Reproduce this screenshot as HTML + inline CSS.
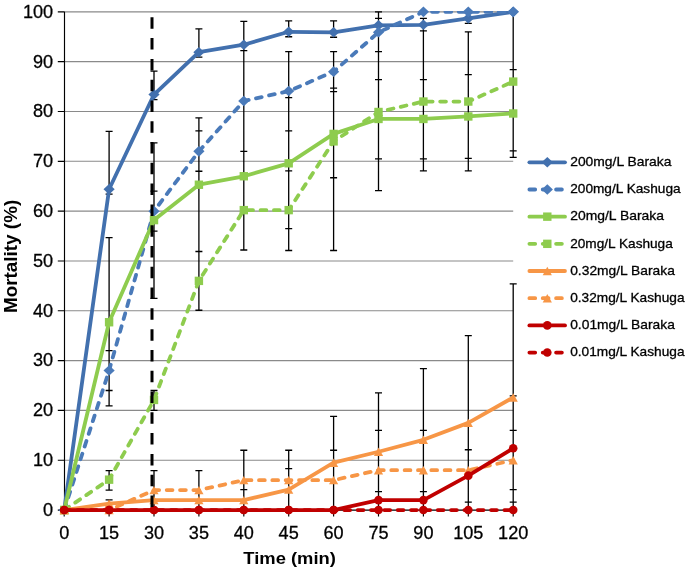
<!DOCTYPE html><html><head><meta charset="utf-8"><style>html,body{margin:0;padding:0;background:#fff;}svg{display:block;will-change:transform;}text{font-family:"Liberation Sans",sans-serif;fill:#000;stroke:#000;stroke-width:0.3px;}</style></head><body>
<svg width="685" height="571" viewBox="0 0 685 571">
<defs><clipPath id="pa"><rect x="0" y="11.0" width="685" height="560"/></clipPath></defs>
<rect width="685" height="571" fill="#fff"/>
<path d="M64.2 460.23H513.20 M64.2 410.41H513.20 M64.2 360.59H513.20 M64.2 310.77H513.20 M64.2 260.95H513.20 M64.2 211.13H513.20 M64.2 161.31H513.20 M64.2 111.49H513.20 M64.2 61.67H513.20 M64.2 11.85H513.20" stroke="#8a8a8a" stroke-width="1.1" fill="none"/>
<path d="M109.10 131.42V194.19 M109.10 237.53V405.93 M109.10 470.69V490.12 M109.10 499.84V510.05 M105.60 131.42H112.60 M105.60 194.19H112.60 M105.60 237.53H112.60 M105.60 350.63H112.60 M105.60 390.48H112.60 M105.60 405.93H112.60 M105.60 470.69H112.60 M105.60 490.12H112.60 M105.60 499.84H112.60 M154.00 71.14V99.53 M154.00 142.88V298.31 M154.00 390.48V410.41 M154.00 470.69V510.05 M150.50 71.14H157.50 M150.50 99.53H157.50 M150.50 142.88H157.50 M150.50 191.20H157.50 M150.50 231.06H157.50 M150.50 298.31H157.50 M150.50 390.48H157.50 M150.50 410.41H157.50 M150.50 470.69H157.50 M198.90 28.79V57.19 M198.90 117.97V310.27 M198.90 470.69V510.05 M195.40 28.79H202.40 M195.40 57.19H202.40 M195.40 117.97H202.40 M195.40 130.92H202.40 M195.40 171.27H202.40 M195.40 251.48H202.40 M195.40 310.27H202.40 M195.40 470.69H202.40 M243.80 21.32V249.99 M243.80 450.27V510.05 M240.30 21.32H247.30 M240.30 50.71H247.30 M240.30 151.35H247.30 M240.30 249.99H247.30 M240.30 450.27H247.30 M240.30 489.62H247.30 M288.70 20.82V36.76 M288.70 51.71V250.49 M288.70 450.27V510.05 M285.20 20.82H292.20 M285.20 36.76H292.20 M285.20 51.71H292.20 M285.20 97.54H292.20 M285.20 130.92H292.20 M285.20 170.78H292.20 M285.20 228.57H292.20 M285.20 250.49H292.20 M285.20 450.27H292.20 M285.20 468.70H292.20 M333.60 20.82V37.26 M333.60 51.71V250.49 M333.60 416.39V510.05 M330.10 20.82H337.10 M330.10 37.26H337.10 M330.10 51.71H337.10 M330.10 88.07H337.10 M330.10 91.56H337.10 M330.10 177.75H337.10 M330.10 250.49H337.10 M330.10 416.39H337.10 M330.10 450.27H337.10 M378.50 11.85V190.70 M378.50 392.97V510.05 M375.00 11.85H382.00 M375.00 18.33H382.00 M375.00 51.71H382.00 M375.00 79.61H382.00 M375.00 158.82H382.00 M375.00 190.70H382.00 M375.00 392.97H382.00 M375.00 430.34H382.00 M375.00 491.62H382.00 M423.40 18.33V170.78 M423.40 368.56V510.05 M419.90 18.33H426.90 M419.90 30.78H426.90 M419.90 79.61H426.90 M419.90 158.82H426.90 M419.90 170.78H426.90 M419.90 368.56H426.90 M419.90 430.34H426.90 M419.90 491.62H426.90 M468.30 16.83V23.31 M468.30 31.78V170.78 M468.30 335.68V510.05 M464.80 23.31H471.80 M464.80 31.78H471.80 M464.80 74.62H471.80 M464.80 158.32H471.80 M464.80 170.78H471.80 M464.80 335.68H471.80 M464.80 449.77H471.80 M464.80 502.08H471.80 M513.20 11.85V157.32 M513.20 283.87V510.05 M509.70 69.64H516.70 M509.70 150.85H516.70 M509.70 157.32H516.70 M509.70 283.87H516.70 M509.70 395.96H516.70 M509.70 430.34H516.70 M509.70 489.62H516.70 M509.70 502.08H516.70" stroke="#000" stroke-width="1.3" fill="none"/>
<path d="M64.5 11.85V510.05 M64.20 510.05H513.20 M57.8 510.05H64.5 M57.8 460.23H64.5 M57.8 410.41H64.5 M57.8 360.59H64.5 M57.8 310.77H64.5 M57.8 260.95H64.5 M57.8 211.13H64.5 M57.8 161.31H64.5 M57.8 111.49H64.5 M57.8 61.67H64.5 M57.8 11.85H64.5 M64.20 510.05V516.6 M109.10 510.05V516.6 M154.00 510.05V516.6 M198.90 510.05V516.6 M243.80 510.05V516.6 M288.70 510.05V516.6 M333.60 510.05V516.6 M378.50 510.05V516.6 M423.40 510.05V516.6 M468.30 510.05V516.6 M513.20 510.05V516.6" stroke="#000" stroke-width="1.15" fill="none"/>
<polyline clip-path="url(#pa)" points="64.20,510.05 109.10,189.21 154.00,94.55 198.90,52.20 243.80,44.73 288.70,31.78 333.60,32.28 378.50,25.30 423.40,24.80 468.30,18.33 513.20,11.85" fill="none" stroke="#4270AE" stroke-width="3.8" stroke-linejoin="round" stroke-linecap="round"/>
<path d="M64.20 504.75L69.80 510.05L64.20 515.35L58.60 510.05Z" fill="#4270AE"/><path d="M109.10 183.91L114.70 189.21L109.10 194.51L103.50 189.21Z" fill="#4270AE"/><path d="M154.00 89.25L159.60 94.55L154.00 99.85L148.40 94.55Z" fill="#4270AE"/><path d="M198.90 46.90L204.50 52.20L198.90 57.50L193.30 52.20Z" fill="#4270AE"/><path d="M243.80 39.43L249.40 44.73L243.80 50.03L238.20 44.73Z" fill="#4270AE"/><path d="M288.70 26.48L294.30 31.78L288.70 37.08L283.10 31.78Z" fill="#4270AE"/><path d="M333.60 26.98L339.20 32.28L333.60 37.58L328.00 32.28Z" fill="#4270AE"/><path d="M378.50 20.00L384.10 25.30L378.50 30.60L372.90 25.30Z" fill="#4270AE"/><path d="M423.40 19.50L429.00 24.80L423.40 30.10L417.80 24.80Z" fill="#4270AE"/><path d="M468.30 13.03L473.90 18.33L468.30 23.63L462.70 18.33Z" fill="#4270AE"/><path d="M513.20 6.55L518.80 11.85L513.20 17.15L507.60 11.85Z" fill="#4270AE"/>
<polyline clip-path="url(#pa)" points="64.20,510.05 109.10,370.55 154.00,211.13 198.90,151.35 243.80,101.03 288.70,91.06 333.60,71.63 378.50,32.28 423.40,11.85 468.30,11.85 513.20,11.85" fill="none" stroke="#4A7AB9" stroke-width="3.8" stroke-linejoin="round" stroke-linecap="round" stroke-dasharray="5.8 7.54"/>
<path d="M64.20 504.75L69.80 510.05L64.20 515.35L58.60 510.05Z" fill="#4A7AB9"/><path d="M109.10 365.25L114.70 370.55L109.10 375.85L103.50 370.55Z" fill="#4A7AB9"/><path d="M154.00 205.83L159.60 211.13L154.00 216.43L148.40 211.13Z" fill="#4A7AB9"/><path d="M198.90 146.05L204.50 151.35L198.90 156.65L193.30 151.35Z" fill="#4A7AB9"/><path d="M243.80 95.73L249.40 101.03L243.80 106.33L238.20 101.03Z" fill="#4A7AB9"/><path d="M288.70 85.76L294.30 91.06L288.70 96.36L283.10 91.06Z" fill="#4A7AB9"/><path d="M333.60 66.33L339.20 71.63L333.60 76.93L328.00 71.63Z" fill="#4A7AB9"/><path d="M378.50 26.98L384.10 32.28L378.50 37.58L372.90 32.28Z" fill="#4A7AB9"/><path d="M423.40 6.55L429.00 11.85L423.40 17.15L417.80 11.85Z" fill="#4A7AB9"/><path d="M468.30 6.55L473.90 11.85L468.30 17.15L462.70 11.85Z" fill="#4A7AB9"/><path d="M513.20 6.55L518.80 11.85L513.20 17.15L507.60 11.85Z" fill="#4A7AB9"/>
<polyline clip-path="url(#pa)" points="64.20,510.05 109.10,322.23 154.00,220.10 198.90,184.73 243.80,176.26 288.70,163.30 333.60,133.91 378.50,118.96 423.40,118.96 468.30,116.47 513.20,113.48" fill="none" stroke="#8ECC4E" stroke-width="3.8" stroke-linejoin="round" stroke-linecap="round"/>
<rect x="60.00" y="505.85" width="8.40" height="8.40" fill="#8ECC4E"/><rect x="104.90" y="318.03" width="8.40" height="8.40" fill="#8ECC4E"/><rect x="149.80" y="215.90" width="8.40" height="8.40" fill="#8ECC4E"/><rect x="194.70" y="180.53" width="8.40" height="8.40" fill="#8ECC4E"/><rect x="239.60" y="172.06" width="8.40" height="8.40" fill="#8ECC4E"/><rect x="284.50" y="159.10" width="8.40" height="8.40" fill="#8ECC4E"/><rect x="329.40" y="129.71" width="8.40" height="8.40" fill="#8ECC4E"/><rect x="374.30" y="114.76" width="8.40" height="8.40" fill="#8ECC4E"/><rect x="419.20" y="114.76" width="8.40" height="8.40" fill="#8ECC4E"/><rect x="464.10" y="112.27" width="8.40" height="8.40" fill="#8ECC4E"/><rect x="509.00" y="109.28" width="8.40" height="8.40" fill="#8ECC4E"/>
<polyline clip-path="url(#pa)" points="64.20,510.05 109.10,479.66 154.00,399.95 198.90,280.88 243.80,210.13 288.70,210.13 333.60,141.38 378.50,111.99 423.40,101.53 468.30,101.53 513.20,81.60" fill="none" stroke="#8ECC4E" stroke-width="3.8" stroke-linejoin="round" stroke-linecap="round" stroke-dasharray="5.8 7.54"/>
<rect x="60.00" y="505.85" width="8.40" height="8.40" fill="#8ECC4E"/><rect x="104.90" y="475.46" width="8.40" height="8.40" fill="#8ECC4E"/><rect x="149.80" y="395.75" width="8.40" height="8.40" fill="#8ECC4E"/><rect x="194.70" y="276.68" width="8.40" height="8.40" fill="#8ECC4E"/><rect x="239.60" y="205.93" width="8.40" height="8.40" fill="#8ECC4E"/><rect x="284.50" y="205.93" width="8.40" height="8.40" fill="#8ECC4E"/><rect x="329.40" y="137.18" width="8.40" height="8.40" fill="#8ECC4E"/><rect x="374.30" y="107.79" width="8.40" height="8.40" fill="#8ECC4E"/><rect x="419.20" y="97.33" width="8.40" height="8.40" fill="#8ECC4E"/><rect x="464.10" y="97.33" width="8.40" height="8.40" fill="#8ECC4E"/><rect x="509.00" y="77.40" width="8.40" height="8.40" fill="#8ECC4E"/>
<polyline clip-path="url(#pa)" points="64.20,510.05 109.10,503.57 154.00,500.09 198.90,500.09 243.80,500.09 288.70,489.62 333.60,462.72 378.50,451.76 423.40,439.80 468.30,422.87 513.20,397.46" fill="none" stroke="#F79646" stroke-width="3.8" stroke-linejoin="round" stroke-linecap="round"/>
<path d="M64.20 505.85L68.80 514.25L59.60 514.25Z" fill="#F79646"/><path d="M109.10 499.37L113.70 507.77L104.50 507.77Z" fill="#F79646"/><path d="M154.00 495.89L158.60 504.29L149.40 504.29Z" fill="#F79646"/><path d="M198.90 495.89L203.50 504.29L194.30 504.29Z" fill="#F79646"/><path d="M243.80 495.89L248.40 504.29L239.20 504.29Z" fill="#F79646"/><path d="M288.70 485.42L293.30 493.82L284.10 493.82Z" fill="#F79646"/><path d="M333.60 458.52L338.20 466.92L329.00 466.92Z" fill="#F79646"/><path d="M378.50 447.56L383.10 455.96L373.90 455.96Z" fill="#F79646"/><path d="M423.40 435.60L428.00 444.00L418.80 444.00Z" fill="#F79646"/><path d="M468.30 418.67L472.90 427.06L463.70 427.06Z" fill="#F79646"/><path d="M513.20 393.26L517.80 401.66L508.60 401.66Z" fill="#F79646"/>
<polyline clip-path="url(#pa)" points="64.20,510.05 109.10,510.05 154.00,490.12 198.90,490.12 243.80,480.16 288.70,480.16 333.60,480.16 378.50,470.19 423.40,470.19 468.30,470.19 513.20,460.23" fill="none" stroke="#F79646" stroke-width="3.8" stroke-linejoin="round" stroke-linecap="round" stroke-dasharray="5.8 7.54"/>
<path d="M64.20 505.85L68.80 514.25L59.60 514.25Z" fill="#F79646"/><path d="M109.10 505.85L113.70 514.25L104.50 514.25Z" fill="#F79646"/><path d="M154.00 485.92L158.60 494.32L149.40 494.32Z" fill="#F79646"/><path d="M198.90 485.92L203.50 494.32L194.30 494.32Z" fill="#F79646"/><path d="M243.80 475.96L248.40 484.36L239.20 484.36Z" fill="#F79646"/><path d="M288.70 475.96L293.30 484.36L284.10 484.36Z" fill="#F79646"/><path d="M333.60 475.96L338.20 484.36L329.00 484.36Z" fill="#F79646"/><path d="M378.50 465.99L383.10 474.39L373.90 474.39Z" fill="#F79646"/><path d="M423.40 465.99L428.00 474.39L418.80 474.39Z" fill="#F79646"/><path d="M468.30 465.99L472.90 474.39L463.70 474.39Z" fill="#F79646"/><path d="M513.20 456.03L517.80 464.43L508.60 464.43Z" fill="#F79646"/>
<polyline clip-path="url(#pa)" points="64.20,510.05 109.10,510.05 154.00,510.05 198.90,510.05 243.80,510.05 288.70,510.05 333.60,510.05 378.50,500.09 423.40,500.09 468.30,475.67 513.20,448.27" fill="none" stroke="#C00000" stroke-width="3.8" stroke-linejoin="round" stroke-linecap="round"/>
<circle cx="64.20" cy="510.05" r="4.30" fill="#C00000"/><circle cx="109.10" cy="510.05" r="4.30" fill="#C00000"/><circle cx="154.00" cy="510.05" r="4.30" fill="#C00000"/><circle cx="198.90" cy="510.05" r="4.30" fill="#C00000"/><circle cx="243.80" cy="510.05" r="4.30" fill="#C00000"/><circle cx="288.70" cy="510.05" r="4.30" fill="#C00000"/><circle cx="333.60" cy="510.05" r="4.30" fill="#C00000"/><circle cx="378.50" cy="500.09" r="4.30" fill="#C00000"/><circle cx="423.40" cy="500.09" r="4.30" fill="#C00000"/><circle cx="468.30" cy="475.67" r="4.30" fill="#C00000"/><circle cx="513.20" cy="448.27" r="4.30" fill="#C00000"/>
<polyline clip-path="url(#pa)" points="64.20,510.05 109.10,510.05 154.00,510.05 198.90,510.05 243.80,510.05 288.70,510.05 333.60,510.05 378.50,510.05 423.40,510.05 468.30,510.05 513.20,510.05" fill="none" stroke="#C00000" stroke-width="3.8" stroke-linejoin="round" stroke-linecap="round" stroke-dasharray="5.8 7.54"/>
<circle cx="64.20" cy="510.05" r="4.30" fill="#C00000"/><circle cx="109.10" cy="510.05" r="4.30" fill="#C00000"/><circle cx="154.00" cy="510.05" r="4.30" fill="#C00000"/><circle cx="198.90" cy="510.05" r="4.30" fill="#C00000"/><circle cx="243.80" cy="510.05" r="4.30" fill="#C00000"/><circle cx="288.70" cy="510.05" r="4.30" fill="#C00000"/><circle cx="333.60" cy="510.05" r="4.30" fill="#C00000"/><circle cx="378.50" cy="510.05" r="4.30" fill="#C00000"/><circle cx="423.40" cy="510.05" r="4.30" fill="#C00000"/><circle cx="468.30" cy="510.05" r="4.30" fill="#C00000"/><circle cx="513.20" cy="510.05" r="4.30" fill="#C00000"/>
<path d="M152.0 17.3V512" stroke="#000" stroke-width="3" stroke-dasharray="11.5 9.29" fill="none"/>
<g transform="scale(0.95 1)" font-size="19.1"><text x="56.00" y="515.95" text-anchor="end">0</text><text x="56.00" y="466.13" text-anchor="end">10</text><text x="56.00" y="416.31" text-anchor="end">20</text><text x="56.00" y="366.49" text-anchor="end">30</text><text x="56.00" y="316.67" text-anchor="end">40</text><text x="56.00" y="266.85" text-anchor="end">50</text><text x="56.00" y="217.03" text-anchor="end">60</text><text x="56.00" y="167.21" text-anchor="end">70</text><text x="56.00" y="117.39" text-anchor="end">80</text><text x="56.00" y="67.57" text-anchor="end">90</text><text x="56.00" y="17.75" text-anchor="end">100</text></g>
<g transform="scale(0.95 1)" font-size="19.1"><text x="67.58" y="539.3" text-anchor="middle">0</text><text x="114.84" y="539.3" text-anchor="middle">15</text><text x="162.11" y="539.3" text-anchor="middle">30</text><text x="209.37" y="539.3" text-anchor="middle">35</text><text x="256.63" y="539.3" text-anchor="middle">40</text><text x="303.89" y="539.3" text-anchor="middle">45</text><text x="351.16" y="539.3" text-anchor="middle">60</text><text x="398.42" y="539.3" text-anchor="middle">75</text><text x="445.68" y="539.3" text-anchor="middle">90</text><text x="492.95" y="539.3" text-anchor="middle">105</text><text x="540.21" y="539.3" text-anchor="middle">120</text></g>
<text x="243.3" y="564.4" font-size="17" font-weight="bold" style="stroke-width:0" textLength="92.6" lengthAdjust="spacingAndGlyphs">Time (min)</text>
<text transform="translate(17 313) rotate(-90)" font-size="17.5" font-weight="bold" style="stroke-width:0" textLength="113.2" lengthAdjust="spacingAndGlyphs">Mortality (%)</text>
<path d="M529.4 162.30H565" stroke="#4270AE" stroke-width="3.8" stroke-linecap="round" fill="none"/>
<path d="M547.30 157.00L552.90 162.30L547.30 167.60L541.70 162.30Z" fill="#4270AE"/>
<text x="570.2" y="166.10" font-size="13.4" textLength="101.2" lengthAdjust="spacingAndGlyphs">200mg/L Baraka</text>
<path d="M529.4 189.48H565" stroke="#4A7AB9" stroke-width="3.8" stroke-linecap="round" stroke-dasharray="5.8 7.54" fill="none"/>
<path d="M547.30 184.18L552.90 189.48L547.30 194.78L541.70 189.48Z" fill="#4A7AB9"/>
<text x="570.2" y="193.28" font-size="13.4" textLength="110.4" lengthAdjust="spacingAndGlyphs">200mg/L Kashuga</text>
<path d="M529.4 216.66H565" stroke="#8ECC4E" stroke-width="3.8" stroke-linecap="round" fill="none"/>
<rect x="543.10" y="212.46" width="8.40" height="8.40" fill="#8ECC4E"/>
<text x="570.2" y="220.46" font-size="13.4" textLength="93.8" lengthAdjust="spacingAndGlyphs">20mg/L Baraka</text>
<path d="M529.4 243.84H565" stroke="#8ECC4E" stroke-width="3.8" stroke-linecap="round" stroke-dasharray="5.8 7.54" fill="none"/>
<rect x="543.10" y="239.64" width="8.40" height="8.40" fill="#8ECC4E"/>
<text x="570.2" y="247.64" font-size="13.4" textLength="102.6" lengthAdjust="spacingAndGlyphs">20mg/L Kashuga</text>
<path d="M529.4 271.02H565" stroke="#F79646" stroke-width="3.8" stroke-linecap="round" fill="none"/>
<path d="M547.30 266.82L551.90 275.22L542.70 275.22Z" fill="#F79646"/>
<text x="570.2" y="274.82" font-size="13.4" textLength="104.7" lengthAdjust="spacingAndGlyphs">0.32mg/L Baraka</text>
<path d="M529.4 298.20H565" stroke="#F79646" stroke-width="3.8" stroke-linecap="round" stroke-dasharray="5.8 7.54" fill="none"/>
<path d="M547.30 294.00L551.90 302.40L542.70 302.40Z" fill="#F79646"/>
<text x="570.2" y="302.00" font-size="13.4" textLength="114.3" lengthAdjust="spacingAndGlyphs">0.32mg/L Kashuga</text>
<path d="M529.4 325.38H565" stroke="#C00000" stroke-width="3.8" stroke-linecap="round" fill="none"/>
<circle cx="547.30" cy="325.38" r="4.30" fill="#C00000"/>
<text x="570.2" y="329.18" font-size="13.4" textLength="104.7" lengthAdjust="spacingAndGlyphs">0.01mg/L Baraka</text>
<path d="M529.4 352.56H565" stroke="#C00000" stroke-width="3.8" stroke-linecap="round" stroke-dasharray="5.8 7.54" fill="none"/>
<circle cx="547.30" cy="352.56" r="4.30" fill="#C00000"/>
<text x="570.2" y="356.36" font-size="13.4" textLength="114.3" lengthAdjust="spacingAndGlyphs">0.01mg/L Kashuga</text>
</svg></body></html>
